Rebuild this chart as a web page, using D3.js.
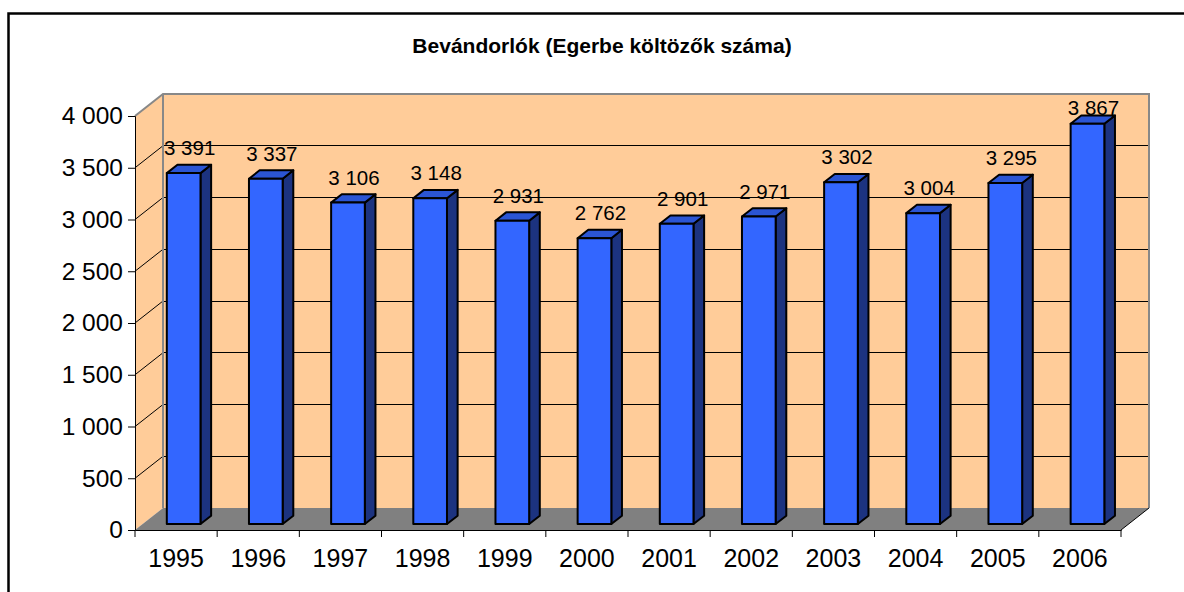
<!DOCTYPE html>
<html>
<head>
<meta charset="utf-8">
<script src="https://cdn.jsdelivr.net/npm/d3@7"></script>
<style>
  body { margin: 0; background: #fff; }
  svg { display: block; font-family: "Liberation Sans", Arial, sans-serif; }
</style>
</head>
<body>
<svg id="chart" width="1184" height="592"></svg>
<script>
// data
const years = ["1995", "1996", "1997", "1998", "1999", "2000", "2001", "2002", "2003", "2004", "2005", "2006"];
const values = [3391, 3337, 3106, 3148, 2931, 2762, 2901, 2971, 3302, 3004, 3295, 3867];
const yTicks = [0, 500, 1000, 1500, 2000, 2500, 3000, 3500, 4000];
const title = "Bevándorlók (Egerbe költözők száma)";

const svg = d3.select("#chart");

// 3d offsets (front -> back wall)
const dx = 28, dy = -22;
const f0 = 0.27, f1 = 0.65; // bar depth, fraction of floor depth

const x = d3.scaleBand().domain(years).range([135, 1121]).paddingInner(0).paddingOuter(0);
const y = d3.scaleLinear().domain([0, 4000]).range([530, 116]);

const fmt = v => d3.format(",")(v).replace(/,/g, " ");

// outer border (cut off at right/bottom like the original)
svg.append("rect")
  .attr("x", 8.5).attr("y", 13.5)
  .attr("width", 1200).attr("height", 600)
  .attr("fill", "none").attr("stroke", "#000").attr("stroke-width", 2.5);

// title
svg.append("text")
  .attr("x", 602).attr("y", 53)
  .attr("text-anchor", "middle")
  .attr("font-weight", "bold")
  .attr("font-size", 21)
  .text(title);

const x0 = x.range()[0], x1 = x.range()[1];
const yb = y(0), yt = y(4000);

// side wall
svg.append("path")
  .attr("d", d3.line()([[x0, yt], [x0 + dx, yt + dy], [x0 + dx, yb + dy], [x0, yb]]) + "Z")
  .attr("fill", "#ffcc99");
// back wall
svg.append("rect")
  .attr("x", x0 + dx).attr("y", yt + dy)
  .attr("width", x1 - x0).attr("height", yb - yt)
  .attr("fill", "#ffcc99");
// floor
svg.append("path")
  .attr("d", d3.line()([[x0, yb], [x0 + dx, yb + dy], [x1 + dx, yb + dy], [x1, yb]]) + "Z")
  .attr("fill", "#808080");

// gridlines
const grid = svg.append("g").attr("stroke", "#000").attr("stroke-width", 1);
yTicks.filter(t => t > 0 && t < 4000).forEach(t => {
  grid.append("line")
    .attr("x1", x0).attr("y1", y(t))
    .attr("x2", x0 + dx).attr("y2", y(t) + dy);
  grid.append("line")
    .attr("x1", x0 + dx).attr("y1", y(t) + dy)
    .attr("x2", x1 + dx).attr("y2", y(t) + dy)
    .attr("shape-rendering", "crispEdges");
});

// wall edges
svg.append("path")
  .attr("d", d3.line()([[x0, yt], [x0 + dx, yt + dy], [x1 + dx, yt + dy], [x1 + dx, yb + dy]]))
  .attr("fill", "none").attr("stroke", "#888").attr("stroke-width", 2);
svg.append("line")
  .attr("x1", x0 + dx).attr("y1", yt + dy).attr("x2", x0 + dx).attr("y2", yb + dy)
  .attr("stroke", "#888").attr("stroke-width", 2);
svg.append("line")
  .attr("x1", x1).attr("y1", yb).attr("x2", x1 + dx).attr("y2", yb + dy)
  .attr("stroke", "#000").attr("stroke-width", 1);

// bars
const bw = x.bandwidth() * 0.41;
const bars = svg.append("g").attr("stroke", "#000").attr("stroke-width", 2).attr("stroke-linejoin", "round");
years.forEach((yr, i) => {
  const v = values[i];
  const left = x(yr) + x.bandwidth() / 2 - bw / 2 + f0 * dx;
  const right = left + bw;
  const bot = y(0) + f0 * dy;
  const top = y(v) + f0 * dy;
  const ddx = (f1 - f0) * dx, ddy = (f1 - f0) * dy;
  // side
  bars.append("path")
    .attr("d", d3.line()([[right, top], [right + ddx, top + ddy], [right + ddx, bot + ddy], [right, bot]]) + "Z")
    .attr("fill", "#1c3380");
  // top
  bars.append("path")
    .attr("d", d3.line()([[left, top], [left + ddx, top + ddy], [right + ddx, top + ddy], [right, top]]) + "Z")
    .attr("fill", "#2b55d4");
  // front
  bars.append("rect")
    .attr("x", left).attr("y", top)
    .attr("width", bw).attr("height", bot - top)
    .attr("fill", "#3366ff");
  // value label
  svg.append("text")
    .attr("x", left + bw / 2 + 6)
    .attr("y", Math.max(top - 18, 115))
    .attr("text-anchor", "middle")
    .attr("font-size", 20.5)
    .text(fmt(v));
});

// y axis
const yAxis = svg.append("g")
  .attr("transform", `translate(${x0},0)`)
  .call(d3.axisLeft(y).tickValues(yTicks).tickFormat(fmt).tickSize(7).tickPadding(5));
yAxis.select(".domain").attr("stroke", "#000");
yAxis.selectAll("text").attr("font-size", 24.5).attr("font-family", "Liberation Sans, Arial, sans-serif").attr("fill", "#000");

// x axis
const xAxis = svg.append("g")
  .attr("transform", `translate(0,${yb})`)
  .call(d3.axisBottom(x).tickSize(0).tickPadding(19));
xAxis.select(".domain").attr("stroke", "#000");
xAxis.selectAll("text").attr("font-size", 25).attr("font-family", "Liberation Sans, Arial, sans-serif").attr("fill", "#000");
// category separators
xAxis.selectAll(".sep")
  .data(d3.range(years.length + 1))
  .join("line")
  .attr("class", "sep")
  .attr("x1", i => x0 + i * x.step()).attr("x2", i => x0 + i * x.step())
  .attr("y1", 0).attr("y2", 7)
  .attr("stroke", "#000");
</script>
</body>
</html>
